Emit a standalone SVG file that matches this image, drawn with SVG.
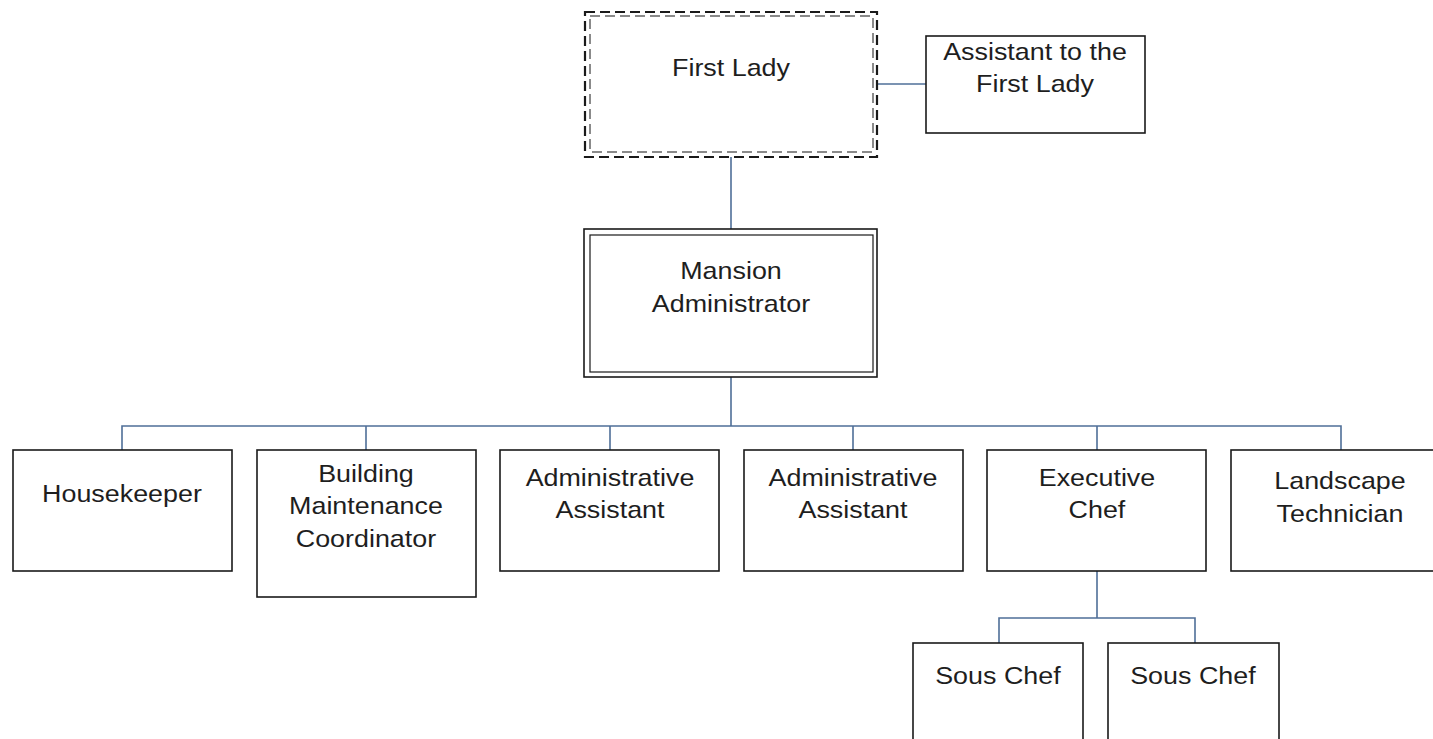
<svg xmlns="http://www.w3.org/2000/svg" width="1433" height="739" viewBox="0 0 1433 739">
<style>
.box{fill:#fff;stroke:#1a1a1a;stroke-width:1.6}
.thin{fill:none;stroke:#1a1a1a;stroke-width:1.2}
.dash1{fill:#fff;stroke:#1a1a1a;stroke-width:2.2;stroke-dasharray:10 5}
.dash2{fill:none;stroke:#8a8a8a;stroke-width:2;stroke-dasharray:10 5}
.t{font-family:"Liberation Sans",Arial,sans-serif;font-size:24px;fill:#1e1e1e;text-anchor:middle;transform-box:fill-box;transform-origin:center;transform:scaleX(1.12)}
.c{fill:none;stroke:#4f6f98;stroke-width:1.6}
</style>
<rect width="1433" height="739" fill="#fff"/>
<g id="connectors">
<path class="c" d="M877 84H926"/>
<path class="c" d="M731 157V229"/>
<path class="c" d="M731 377V426M122 450V426H1341V450M366 426V450M610 426V450M853 426V450M1097 426V450"/>
<path class="c" d="M1097 571V618M999 643V618H1195V643"/>
</g>
<g id="first-lady">
<rect class="dash1" x="585" y="12" width="292" height="145"/>
<rect class="dash2" x="590" y="16" width="283" height="136"/>
<text class="t" x="731" y="76">First Lady</text>
</g>
<g id="assistant-first-lady">
<rect class="box" x="926" y="36" width="219" height="97"/>
<text class="t" x="1035" y="60">Assistant to the</text>
<text class="t" x="1035" y="92">First Lady</text>
</g>
<g id="mansion-administrator">
<rect class="box" x="584" y="229" width="293" height="148"/>
<rect class="thin" x="590" y="235" width="283" height="137"/>
<text class="t" x="731" y="279">Mansion</text>
<text class="t" x="731" y="312">Administrator</text>
</g>
<g id="housekeeper">
<rect class="box" x="13" y="450" width="219" height="121"/>
<text class="t" x="122" y="502">Housekeeper</text>
</g>
<g id="building-maintenance">
<rect class="box" x="257" y="450" width="219" height="147"/>
<text class="t" x="366" y="482">Building</text>
<text class="t" x="366" y="514">Maintenance</text>
<text class="t" x="366" y="547">Coordinator</text>
</g>
<g id="admin-assistant-1">
<rect class="box" x="500" y="450" width="219" height="121"/>
<text class="t" x="610" y="486">Administrative</text>
<text class="t" x="610" y="518">Assistant</text>
</g>
<g id="admin-assistant-2">
<rect class="box" x="744" y="450" width="219" height="121"/>
<text class="t" x="853" y="486">Administrative</text>
<text class="t" x="853" y="518">Assistant</text>
</g>
<g id="executive-chef">
<rect class="box" x="987" y="450" width="219" height="121"/>
<text class="t" x="1097" y="486">Executive</text>
<text class="t" x="1097" y="518">Chef</text>
</g>
<g id="landscape-technician">
<rect class="box" x="1231" y="450" width="219" height="121"/>
<text class="t" x="1340" y="489">Landscape</text>
<text class="t" x="1340" y="522">Technician</text>
</g>
<g id="sous-chef-1">
<rect class="box" x="913" y="643" width="170" height="110"/>
<text class="t" x="998" y="684">Sous Chef</text>
</g>
<g id="sous-chef-2">
<rect class="box" x="1108" y="643" width="171" height="110"/>
<text class="t" x="1193" y="684">Sous Chef</text>
</g>
</svg>
